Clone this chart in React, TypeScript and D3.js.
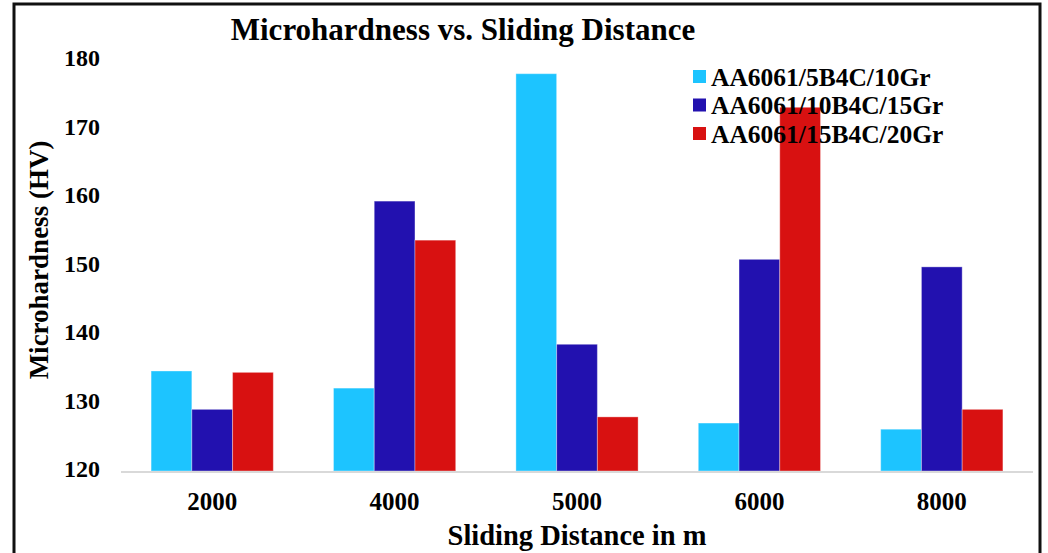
import React, { useRef, useEffect } from "react";
import * as d3 from "d3";

const distances = ["2000", "4000", "5000", "6000", "8000"];
const seriesNames = ["AA6061/5B4C/10Gr", "AA6061/10B4C/15Gr", "AA6061/15B4C/20Gr"];
const seriesColors = ["#1dc4ff", "#2211af", "#d81111"];
const hv5B4C = [134.6, 132.1, 178.0, 127.0, 126.1];
const hv10B4C = [129.0, 159.4, 138.5, 150.9, 149.8];
const hv15B4C = [134.4, 153.7, 127.9, 173.1, 129.0];
const yTicks = [120, 130, 140, 150, 160, 170, 180];

const FONT = "'Liberation Serif', 'Times New Roman', serif";

export default function App() {
    const svgRef = useRef<SVGSVGElement>(null);

    useEffect(() => {
        const svg = d3.select(svgRef.current);
        svg.selectAll("*").remove();

        const plot = { left: 121, right: 1033, top: 60, bottom: 471 };
        const values = [hv5B4C, hv10B4C, hv15B4C];

        const x0 = d3.scaleBand()
            .domain(distances)
            .range([plot.left, plot.right])
            .paddingInner(0.33)
            .paddingOuter(0.165);
        const x1 = d3.scaleBand()
            .domain(seriesNames)
            .range([0, x0.bandwidth()]);
        const y = d3.scaleLinear([120, 180], [plot.bottom, plot.top]);

        // outer frame
        svg.append("rect")
            .attr("x", 14)
            .attr("y", 4)
            .attr("width", 1026)
            .attr("height", 620)
            .attr("fill", "white")
            .attr("stroke", "#111")
            .attr("stroke-width", 3);

        svg.append("text")
            .text("Microhardness vs. Sliding Distance")
            .attr("x", 463)
            .attr("y", 40)
            .attr("text-anchor", "middle")
            .attr("font-family", FONT)
            .attr("font-weight", "bold")
            .attr("font-size", 31);

        // bars
        const groups = svg.append("g")
            .selectAll("g")
            .data(distances)
            .enter()
            .append("g")
            .attr("transform", d => `translate(${x0(d)},0)`);

        groups.selectAll("rect")
            .data((d, i) => seriesNames.map((s, k) => ({ s, k, v: values[k][i] })))
            .enter()
            .append("rect")
            .attr("x", d => x1(d.s)!)
            .attr("width", x1.bandwidth())
            .attr("y", d => y(d.v))
            .attr("height", d => y(120) - y(d.v))
            .attr("fill", d => seriesColors[d.k])
            .attr("stroke", "rgba(255,255,255,0.35)")
            .attr("stroke-width", 1);

        // x baseline
        svg.append("line")
            .attr("x1", plot.left)
            .attr("x2", plot.right)
            .attr("y1", y(120) + 1)
            .attr("y2", y(120) + 1)
            .attr("stroke", "#d9d9d9")
            .attr("stroke-width", 2);

        // y tick labels
        svg.append("g")
            .selectAll("text")
            .data(yTicks)
            .enter()
            .append("text")
            .text(d => d)
            .attr("x", 100)
            .attr("y", d => y(d) + 6)
            .attr("text-anchor", "end")
            .attr("font-family", FONT)
            .attr("font-weight", "bold")
            .attr("font-size", 24);

        // x tick labels
        svg.append("g")
            .selectAll("text")
            .data(distances)
            .enter()
            .append("text")
            .text(d => d)
            .attr("x", d => x0(d)! + x0.bandwidth() / 2)
            .attr("y", 510)
            .attr("text-anchor", "middle")
            .attr("font-family", FONT)
            .attr("font-weight", "bold")
            .attr("font-size", 25);

        svg.append("text")
            .text("Sliding Distance in m")
            .attr("x", 577)
            .attr("y", 545)
            .attr("text-anchor", "middle")
            .attr("font-family", FONT)
            .attr("font-weight", "bold")
            .attr("font-size", 28.5);

        svg.append("text")
            .text("Microhardness (HV)")
            .attr("transform", "translate(48,260) rotate(-90)")
            .attr("text-anchor", "middle")
            .attr("font-family", FONT)
            .attr("font-weight", "bold")
            .attr("font-size", 27);

        // legend
        const legend = svg.append("g");
        legend.selectAll("rect")
            .data(seriesNames)
            .enter()
            .append("rect")
            .attr("x", 693)
            .attr("y", (d, i) => 70 + i * 28.5)
            .attr("width", 13)
            .attr("height", 13)
            .attr("fill", (d, i) => seriesColors[i]);
        legend.selectAll("text")
            .data(seriesNames)
            .enter()
            .append("text")
            .text(d => d)
            .attr("x", 711)
            .attr("y", (d, i) => 85.5 + i * 28.5)
            .attr("font-family", FONT)
            .attr("font-weight", "bold")
            .attr("font-size", 25.5);
    }, []);

    return (
        <svg
            ref={svgRef}
            width={1048}
            height={553}
            style={{ position: "absolute", left: 0, top: 0, display: "block" }}
        />
    );
}
